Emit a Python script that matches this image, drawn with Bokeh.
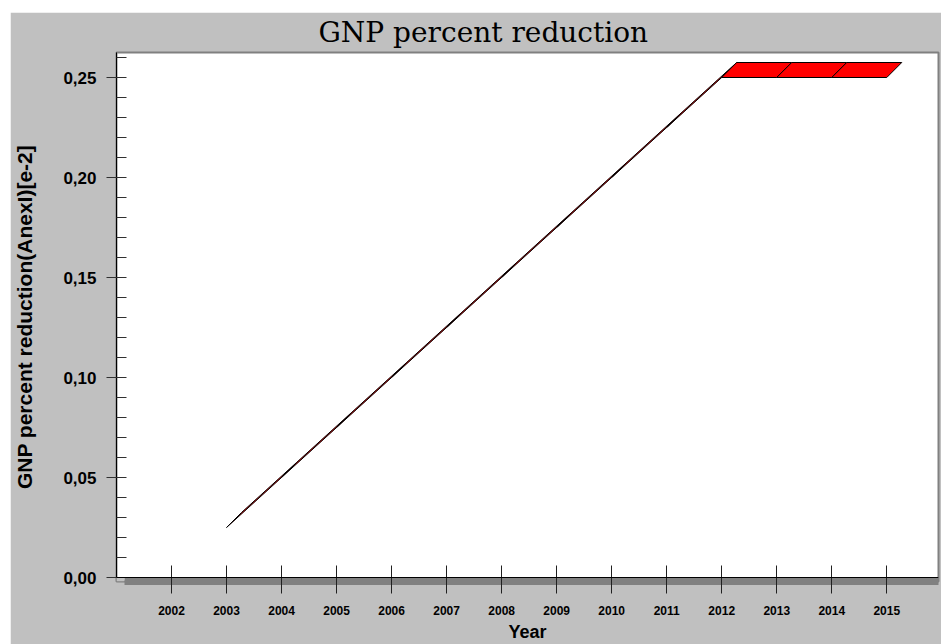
from bokeh.plotting import figure
from bokeh.models import Range1d, FixedTicker, CustomJSTickFormatter, Span
from bokeh.embed import file_html
from bokeh.resources import INLINE

# ---- data ----
years = [2003, 2004, 2005, 2006, 2007, 2008, 2009, 2010, 2011, 2012, 2013, 2014, 2015]
values = [0.025, 0.050, 0.075, 0.100, 0.125, 0.150, 0.175, 0.200, 0.225, 0.250, 0.250, 0.250, 0.250]
x_ticks = [2002, 2003, 2004, 2005, 2006, 2007, 2008, 2009, 2010, 2011, 2012, 2013, 2014, 2015]
y_ticks = [0.00, 0.05, 0.10, 0.15, 0.20, 0.25]
y_minor = [0.01, 0.02, 0.03, 0.04, 0.06, 0.07, 0.08, 0.09, 0.11, 0.12, 0.13, 0.14,
           0.16, 0.17, 0.18, 0.19, 0.21, 0.22, 0.23, 0.24, 0.26]
title_text = "GNP percent reduction"
x_label = "Year"
y_label = "GNP percent reduction(AnexI)[e-2]"

# ---- layout constants ----
W, H = 931, 632
BL, BR, BT, BB = 105, 3, 40, 63
frame_w = W - BL - BR
frame_h = H - BT - BB
x_start, x_end = 2001.0, 2015.94
y_end = 0.2625
below_px = 4          # frame bottom sits 4px under the zero line (middle of the 3D floor)
depth_px = 15
floor_w = 7
px_per_year = frame_w / (x_end - x_start)
px_per_unit = (frame_h - below_px) / y_end
y_start = -below_px / px_per_unit

GRAY = "#c0c0c0"
DARK = "#808080"

p = figure(width=W, height=H, output_backend="svg", toolbar_location=None,
           x_range=Range1d(x_start, x_end), y_range=Range1d(y_start, y_end),
           min_border_left=BL, min_border_right=BR, min_border_top=BT, min_border_bottom=BB)
p.margin = (12, 0, 0, 10)
p.border_fill_color = GRAY
p.background_fill_color = "white"
p.outline_line_color = DARK
p.outline_line_width = 2
p.xgrid.visible = False
p.ygrid.visible = False

# title
p.title.text = title_text
p.title.text_font = "DejaVu Serif"
p.title.text_font_size = "28px"
p.title.text_font_style = "normal"
p.title.text_color = "black"
p.title.align = "left"
p.title.offset = 202
p.title.vertical_align = "top"
p.title.standoff = 4

# gray patch left of the floor (below zero line)
p.quad(left=[x_start], right=[x_start + 8 / px_per_year], bottom=[y_start], top=[0],
       fill_color=GRAY, line_color=None)

# 3D ribbon line
dx = depth_px / px_per_year
dy = depth_px / px_per_unit
xs, ys = [], []
for i in range(len(years) - 1):
    xa, xb = years[i], years[i + 1]
    ya, yb = values[i], values[i + 1]
    xs.append([xa, xb, xb + dx, xa + dx])
    ys.append([ya, yb, yb + dy, ya + dy])
p.patches(xs, ys, fill_color="#ff0000", line_color="black", line_width=1)

# zero line
p.add_layout(Span(location=0, dimension="width", line_color="black", line_width=1))

# x axis (thick gray line = 3D floor)
xa_ = p.xaxis[0]
xa_.bounds = (x_start + 8 / px_per_year, x_end)
xa_.ticker = FixedTicker(ticks=x_ticks, minor_ticks=[])
xa_.axis_line_color = DARK
xa_.axis_line_width = floor_w
xa_.major_tick_in = 16
xa_.major_tick_out = 12
xa_.major_tick_line_color = "#202020"
xa_.minor_tick_line_color = None
xa_.major_label_text_font = "Liberation Sans"
xa_.major_label_text_font_style = "bold"
xa_.major_label_text_font_size = "12px"
xa_.major_label_text_color = "black"
xa_.major_label_standoff = 12
xa_.axis_label = x_label
xa_.axis_label_text_font = "Liberation Sans"
xa_.axis_label_text_font_style = "bold"
xa_.axis_label_text_font_size = "18px"
xa_.axis_label_text_color = "black"
xa_.axis_label_standoff = 4

# y axis
ya_ = p.yaxis[0]
ya_.bounds = (0, y_end)
ya_.ticker = FixedTicker(ticks=y_ticks, minor_ticks=y_minor)
ya_.formatter = CustomJSTickFormatter(code="return tick.toFixed(2).replace('.', ',');")
ya_.axis_line_color = "black"
ya_.major_tick_in = 10
ya_.major_tick_out = 10
ya_.minor_tick_in = 10
ya_.minor_tick_out = 0
ya_.major_tick_line_color = "#303030"
ya_.minor_tick_line_color = "#303030"
ya_.major_label_text_font = "Liberation Sans"
ya_.major_label_text_font_style = "bold"
ya_.major_label_text_font_size = "17px"
ya_.major_label_text_color = "black"
ya_.major_label_standoff = 10
ya_.axis_label = y_label
ya_.axis_label_text_font = "Liberation Sans"
ya_.axis_label_text_font_style = "bold"
ya_.axis_label_text_font_size = "21px"
ya_.axis_label_text_color = "black"
ya_.axis_label_standoff = 24

open("out.html", "w").write(file_html(p, INLINE))
